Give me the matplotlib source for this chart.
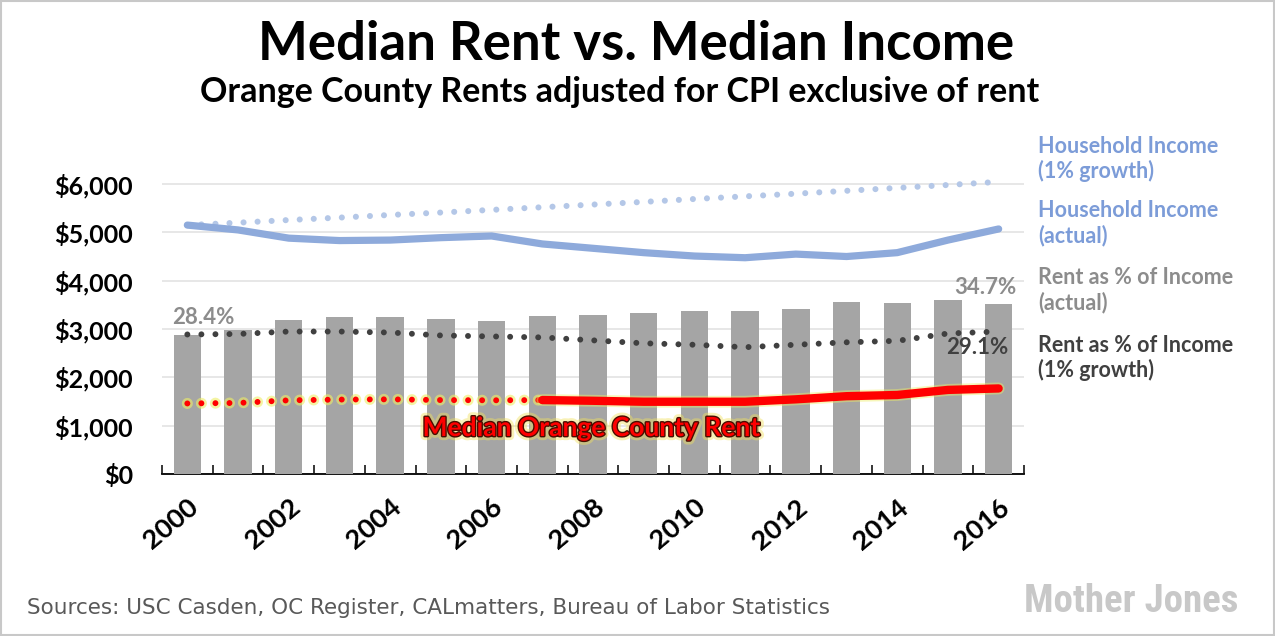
import matplotlib
matplotlib.use("Agg")
import matplotlib.pyplot as plt
import matplotlib.patheffects as pe
from matplotlib.patches import Rectangle
from matplotlib import font_manager
import numpy as np

years = list(range(2000, 2017))
rent_pct_actual = [28.4, 29.4, 31.5, 32.1, 32.1, 31.7, 31.3, 32.3, 32.5, 32.9,
                   33.3, 33.3, 33.7, 35.1, 34.9, 35.5, 34.7]
rent_pct_growth = [28.5, 28.6, 29.1, 29.1, 28.9, 28.3, 28.1, 27.9, 27.3, 26.7,
                   26.4, 25.9, 26.4, 26.9, 27.2, 28.7, 29.1]
income_actual = [5150, 5050, 4880, 4830, 4840, 4890, 4925, 4760, 4670, 4580,
                 4510, 4475, 4550, 4500, 4580, 4840, 5070]
income_growth = [5150, 5200, 5255, 5305, 5360, 5410, 5465, 5520, 5575, 5630,
                 5690, 5745, 5800, 5860, 5920, 5980, 6045]
median_rent = [1460, 1470, 1525, 1540, 1545, 1530, 1525, 1530, 1515, 1495,
               1495, 1495, 1545, 1610, 1635, 1740, 1770]
rent_solid_start = 2007
ytick_vals = [0, 1000, 2000, 3000, 4000, 5000, 6000]
ytick_labels = ["$0", "$1,000", "$2,000", "$3,000", "$4,000", "$5,000", "$6,000"]
xtick_years = list(range(2000, 2017, 2))

YMAX = 6700
DOLLARS_PER_PCT = 101.3

FONT = ["Lato", "DejaVu Sans"]
plt.rcParams["font.family"] = FONT


def pick_condensed_font():
    cands = []
    for f in font_manager.fontManager.ttflist:
        st = str(f.stretch).lower()
        name = f.name.lower()
        condensed = ("condensed" in st or "narrow" in name or "condensed" in name
                     or (isinstance(f.stretch, (int, float)) and f.stretch < 500))
        if condensed:
            w = f.weight if isinstance(f.weight, (int, float)) else 400
            style_ok = f.style == "normal"
            cands.append((style_ok, -abs(w - 700), f.fname))
    if cands:
        cands.sort(reverse=True)
        return font_manager.FontProperties(fname=cands[0][2]), True
    return font_manager.FontProperties(family="DejaVu Sans", weight="bold"), False


LOGO_PROP, LOGO_IS_COND = pick_condensed_font()
LOGO_PROP.set_size(28 if LOGO_IS_COND else 24)

W, H = 1275, 636
fig = plt.figure(figsize=(W / 100, H / 100), dpi=100)
fig.patch.set_facecolor("white")

left, right = 162 / W, 1024 / W
bottom = 1 - 474 / H
top = 1 - (474 - YMAX / 1000 * 48.33) / H
ax = fig.add_axes([left, bottom, right - left, top - bottom])
x = np.arange(len(years))

# host axis: grid & ticks
ax.set_xlim(-0.5, len(years) - 0.5)
ax.set_ylim(0, YMAX)
ax.set_yticks(ytick_vals)
ax.set_yticklabels(ytick_labels, fontsize=18, fontweight="bold", color="black")
ax.tick_params(axis="y", length=0, pad=21)
ax.grid(axis="y", color="#e3e3e3", linewidth=1.2)
ax.set_axisbelow(True)
for s in ["left", "right", "top"]:
    ax.spines[s].set_visible(False)
ax.spines["bottom"].set_color("black")
ax.spines["bottom"].set_linewidth(1.3)
ax.set_xticks([years.index(y) for y in xtick_years])
ax.set_xticklabels([str(y) for y in xtick_years], fontsize=19.5, fontweight="bold",
                   rotation=40, ha="right", rotation_mode="anchor")
ax.tick_params(axis="x", which="major", length=0, pad=15)
ax.set_xticks(np.arange(-0.5, len(years), 1.0), minor=True)
ax.tick_params(axis="x", which="minor", direction="in", length=6.5, width=1.1, color="black")

# percentage axis: bars and rent-% dotted line
axp = ax.twinx()
axp.set_ylim(0, YMAX / DOLLARS_PER_PCT)
axp.set_yticks([])
for s in axp.spines.values():
    s.set_visible(False)
axp.bar(x, rent_pct_actual, width=0.54, color="#a5a5a5", zorder=1)
axp.plot(x, rent_pct_growth, color="#404040", linewidth=4.3,
         linestyle=(0, (0.001, 2.35)), dash_capstyle="round", zorder=3)
axp.text(x[0] - 0.3, rent_pct_actual[0] + 1.5, f"{rent_pct_actual[0]}%", fontsize=16,
         fontweight="bold", color="#8c8c8c", ha="left", va="bottom")
axp.text(x[-1] + 0.35, rent_pct_actual[-1] + 1.3, f"{rent_pct_actual[-1]}%", fontsize=16,
         fontweight="bold", color="#8c8c8c", ha="right", va="bottom")
axp.text(x[-1] + 0.2, rent_pct_growth[-1] - 1.2, f"{rent_pct_growth[-1]}%", fontsize=16,
         fontweight="bold", color="#404040", ha="right", va="top")

# dollar axis on top: income lines and rent
axd = ax.twinx()
axd.set_ylim(0, YMAX)
axd.set_yticks([])
for s in axd.spines.values():
    s.set_visible(False)
axd.plot(x, income_growth, color="#b4c7e7", linewidth=4.4,
         linestyle=(0, (0.001, 2.3)), dash_capstyle="round", zorder=2)
axd.plot(x, income_actual, color="#8eaadb", linewidth=5.2,
         solid_capstyle="round", solid_joinstyle="round", zorder=3)

k = years.index(rent_solid_start)
axd.plot(x[:k + 1], median_rent[:k + 1], color="#ff0000", linewidth=4.3,
         linestyle=(0, (0.001, 2.35)), dash_capstyle="round", zorder=4,
         path_effects=[pe.Stroke(linewidth=8, foreground="#eeee66", alpha=0.6), pe.Normal()])
axd.plot(x[k:], median_rent[k:], color="#ff0000", linewidth=6,
         solid_capstyle="round", solid_joinstyle="round", zorder=5,
         path_effects=[pe.Stroke(linewidth=8.5, foreground="#eeee66", alpha=0.45), pe.Normal()])
axd.text(591 / 1275, 1 - 428 / H, "Median Orange County Rent", transform=fig.transFigure,
         fontsize=19, fontweight="bold", color="#ff0000", ha="center", va="center",
         path_effects=[pe.Stroke(linewidth=6, foreground="#f0e060", alpha=0.45),
                       pe.Stroke(linewidth=2.0, foreground="#4a0d00"), pe.Normal()])

# right-hand labels
lab_x = 1038 / W
labels = [("Household Income\n(1% growth)", 159, "#7c9cd8"),
          ("Household Income\n(actual)", 223, "#7c9cd8"),
          ("Rent as % of Income\n(actual)", 290, "#8c8c8c"),
          ("Rent as % of Income\n(1% growth)", 358, "#404040")]
for txt, yc, col in labels:
    fig.text(lab_x, 1 - yc / H, txt, fontsize=15.5, fontweight="bold", color=col,
             ha="left", va="center", linespacing=1.2)

# titles
fig.text(636 / W, 1 - 45 / H, "Median Rent vs. Median Income", fontsize=38, fontweight="bold",
         ha="center", va="center", color="black")
fig.text(620 / W, 1 - 92 / H, "Orange County Rents adjusted for CPI exclusive of rent",
         fontsize=24.5, fontweight="bold", ha="center", va="center", color="black")

# source and logo
fig.text(27 / W, 1 - 608 / H,
         "Sources: USC Casden, OC Register, CALmatters, Bureau of Labor Statistics",
         fontsize=15.5, family=["DejaVu Sans"], color="#595959", ha="left", va="center")
fig.text(1238 / W, 1 - 602 / H, "Mother Jones", fontproperties=LOGO_PROP,
         color="#c8c8c8", ha="right", va="center")

# border
fig.add_artist(Rectangle((0.0008, 0.0015), 0.9984, 0.997, transform=fig.transFigure,
                         fill=False, edgecolor="#c8c8c8", linewidth=1.5))

fig.savefig("out.png", dpi=100, facecolor="white")
